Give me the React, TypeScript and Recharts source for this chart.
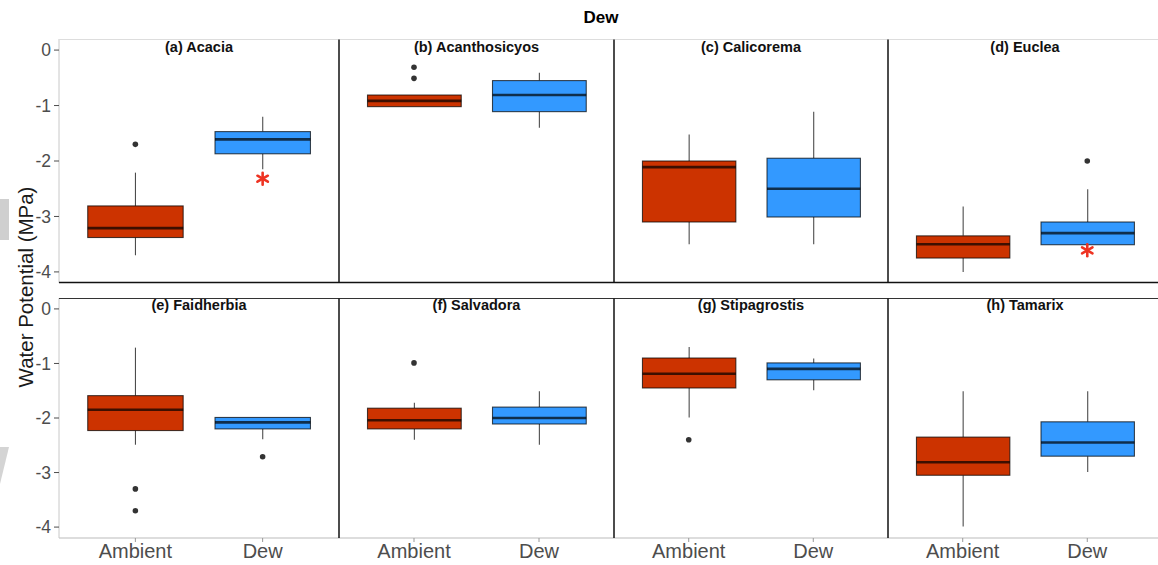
import React from 'react';
import { ComposedChart, Bar, Scatter, XAxis, YAxis } from 'recharts';

const panelTitles = [
  '(a) Acacia', '(b) Acanthosicyos', '(c) Calicorema', '(d) Euclea',
  '(e) Faidherbia', '(f) Salvadora', '(g) Stipagrostis', '(h) Tamarix',
];
const treatments = ['Ambient', 'Dew'];
const yTicks = [0, -1, -2, -3, -4];

// [whisker low, Q1, median, Q3, whisker high] for each species
const ambientStats = [
  [-3.7, -3.38, -3.21, -2.81, -2.21],
  [-1.02, -1.02, -0.915, -0.81, -0.81],
  [-3.5, -3.1, -2.11, -2.0, -1.52],
  [-4.0, -3.75, -3.5, -3.35, -2.82],
  [-2.49, -2.23, -1.85, -1.59, -0.71],
  [-2.4, -2.2, -2.04, -1.82, -1.72],
  [-1.99, -1.45, -1.19, -0.9, -0.7],
  [-3.99, -3.05, -2.81, -2.35, -1.51],
];
const dewStats = [
  [-2.15, -1.87, -1.61, -1.47, -1.2],
  [-1.4, -1.11, -0.81, -0.55, -0.41],
  [-3.5, -3.01, -2.5, -1.95, -1.11],
  [-3.51, -3.51, -3.3, -3.1, -2.51],
  [-2.39, -2.2, -2.08, -1.99, -1.99],
  [-2.49, -2.11, -2.0, -1.8, -1.51],
  [-1.49, -1.3, -1.1, -0.99, -0.91],
  [-2.99, -2.7, -2.45, -2.07, -1.51],
];
const ambientOutliers = [[-1.7], [-0.31, -0.51], [], [], [-3.3, -3.7], [-0.99], [-2.4], []];
const dewOutliers = [[], [], [], [-2.0], [-2.71], [], [], []];
const dewStars = [[-2.32], [], [], [-3.61], [], [], [], []];

const AMBIENT = '#cc3300';
const DEW = '#3399ff';
const EDGE = 'rgba(0,0,0,0.7)';
const FONT = "'Liberation Sans', Arial, sans-serif";

const panelLeft = [59, 339, 614, 888];
const panelW = [280, 275, 274, 274];
const rowTop = [39, 298];
const plotH = [244, 240];
const xAxisH = 27;
const yAxisW = 59;

const BoxShape = (props: any) => {
  const { x, y, width, height, payload } = props;
  const [lo, q1, med, q3, hi] = payload.stats;
  const top = Math.min(y, y + height);
  const bot = Math.max(y, y + height);
  const py = (v: number) => top + ((hi - v) / (hi - lo)) * (bot - top);
  const cx = x + width / 2;
  return (
    <g>
      <line x1={cx} x2={cx} y1={py(hi)} y2={py(q3)} stroke={EDGE} strokeWidth={1.1} />
      <line x1={cx} x2={cx} y1={py(q1)} y2={py(lo)} stroke={EDGE} strokeWidth={1.1} />
      <rect x={x} y={py(q3)} width={width} height={py(q1) - py(q3)} fill={payload.fill} stroke={EDGE} strokeWidth={1.1} />
      <line x1={x} x2={x + width} y1={py(med)} y2={py(med)} stroke={EDGE} strokeWidth={2.6} />
    </g>
  );
};

const Dot = (props: any) => <circle cx={props.cx} cy={props.cy} r={2.8} fill="#333333" />;

const Star = (props: any) => {
  const { cx, cy } = props;
  const r = 6;
  const arms = [90, 30, -30].map((a) => {
    const t = (a * Math.PI) / 180;
    return [Math.cos(t) * r, Math.sin(t) * r];
  });
  return (
    <g stroke="#ee3322" strokeWidth={2.6} strokeLinecap="round">
      {arms.map(([dx, dy], i) => (
        <line key={i} x1={cx - dx} y1={cy - dy} x2={cx + dx} y2={cy + dy} />
      ))}
    </g>
  );
};

const Panel = ({ idx }: { idx: number }) => {
  const row = idx < 4 ? 0 : 1;
  const col = idx % 4;
  const showY = col === 0;
  const showX = row === 1;
  const left = showY ? 0 : panelLeft[col];
  const width = panelW[col] + (showY ? yAxisW : 0);
  const height = plotH[row] + (showX ? xAxisH : 0);
  const barSize = (0.75 / 2.2) * panelW[col];

  const boxes = [
    { pos: 1, range: [ambientStats[idx][0], ambientStats[idx][4]], stats: ambientStats[idx], fill: AMBIENT },
    { pos: 2, range: [dewStats[idx][0], dewStats[idx][4]], stats: dewStats[idx], fill: DEW },
  ];
  const outliers = [
    ...ambientOutliers[idx].map((v) => ({ pos: 1, v })),
    ...dewOutliers[idx].map((v) => ({ pos: 2, v })),
  ];
  const stars = dewStars[idx].map((v) => ({ pos: 2, v }));

  return (
    <div style={{ position: 'absolute', left, top: rowTop[row], width, height }}>
      <ComposedChart width={width} height={height} data={boxes} margin={{ top: 0, right: 0, bottom: 0, left: 0 }}>
        <XAxis
          type="number"
          dataKey="pos"
          domain={[0.4, 2.6]}
          ticks={[1, 2]}
          allowDataOverflow
          hide={!showX}
          height={xAxisH}
          interval={0}
          tickFormatter={(v: number) => treatments[v - 1]}
          tick={{ fill: '#4d4d4d', fontSize: 20, fontFamily: FONT }}
          tickLine={{ stroke: '#999999' }}
          tickSize={4}
          tickMargin={2}
          axisLine={{ stroke: '#bbbbbb' }}
        />
        <YAxis
          type="number"
          domain={[-4.2, 0.2]}
          ticks={yTicks}
          allowDataOverflow
          hide={!showY}
          width={yAxisW}
          interval={0}
          tick={{ fill: '#4d4d4d', fontSize: 17.5, fontFamily: FONT }}
          tickLine={{ stroke: '#4d4d4d' }}
          tickSize={5}
          tickMargin={3}
          axisLine={{ stroke: '#c8c8c8' }}
        />
        <Bar dataKey="range" barSize={barSize} shape={BoxShape} isAnimationActive={false} />
        {outliers.length > 0 && (
          <Scatter data={outliers} dataKey="v" shape={Dot} isAnimationActive={false} />
        )}
        {stars.length > 0 && (
          <Scatter data={stars} dataKey="v" shape={Star} isAnimationActive={false} />
        )}
      </ComposedChart>
    </div>
  );
};

const App = () => {
  const rightEdge = 1158;
  return (
    <div style={{ position: 'absolute', left: 0, top: 0, width: 1158, height: 565, overflow: 'hidden', background: '#fff', fontFamily: FONT }}>
      {panelTitles.map((_, i) => (
        <Panel key={i} idx={i} />
      ))}
      <svg width={1158} height={565} style={{ position: 'absolute', left: 0, top: 0, pointerEvents: 'none' }}>
        {/* scan artifacts at the left edge */}
        <rect x={0} y={199} width={9} height={41} fill="#cfcfcf" />
        <polygon points="0,447 9,447 0,484" fill="#d4d4d4" />

        <text x={601} y={23} textAnchor="middle" fontSize={17} fontWeight="bold" fill="#000">Dew</text>
        <text
          transform="translate(33,287) rotate(-90)"
          textAnchor="middle"
          fontSize={20.5}
          fill="#1a1a1a"
        >
          Water Potential (MPa)
        </text>

        <line x1={59} x2={rightEdge} y1={39.5} y2={39.5} stroke="#dddddd" />
        <line x1={59} x2={rightEdge} y1={282.5} y2={282.5} stroke="#111" strokeWidth={1.4} />
        <line x1={59} x2={rightEdge} y1={298.5} y2={298.5} stroke="#333" strokeWidth={1.2} />
        {[339, 614, 888].map((x) => (
          <g key={x}>
            <line x1={x} x2={x} y1={39.5} y2={283} stroke="#111" strokeWidth={1.5} />
            <line x1={x} x2={x} y1={298.5} y2={538} stroke="#111" strokeWidth={1.5} />
          </g>
        ))}

        {panelTitles.map((t, i) => {
          const col = i % 4;
          const cx = panelLeft[col] + panelW[col] / 2;
          const y = i < 4 ? 51.5 : 310;
          return (
            <text key={t} x={cx} y={y} textAnchor="middle" fontSize={14.5} fontWeight="bold" fill="#111">
              {t}
            </text>
          );
        })}
      </svg>
    </div>
  );
};

export default App;
